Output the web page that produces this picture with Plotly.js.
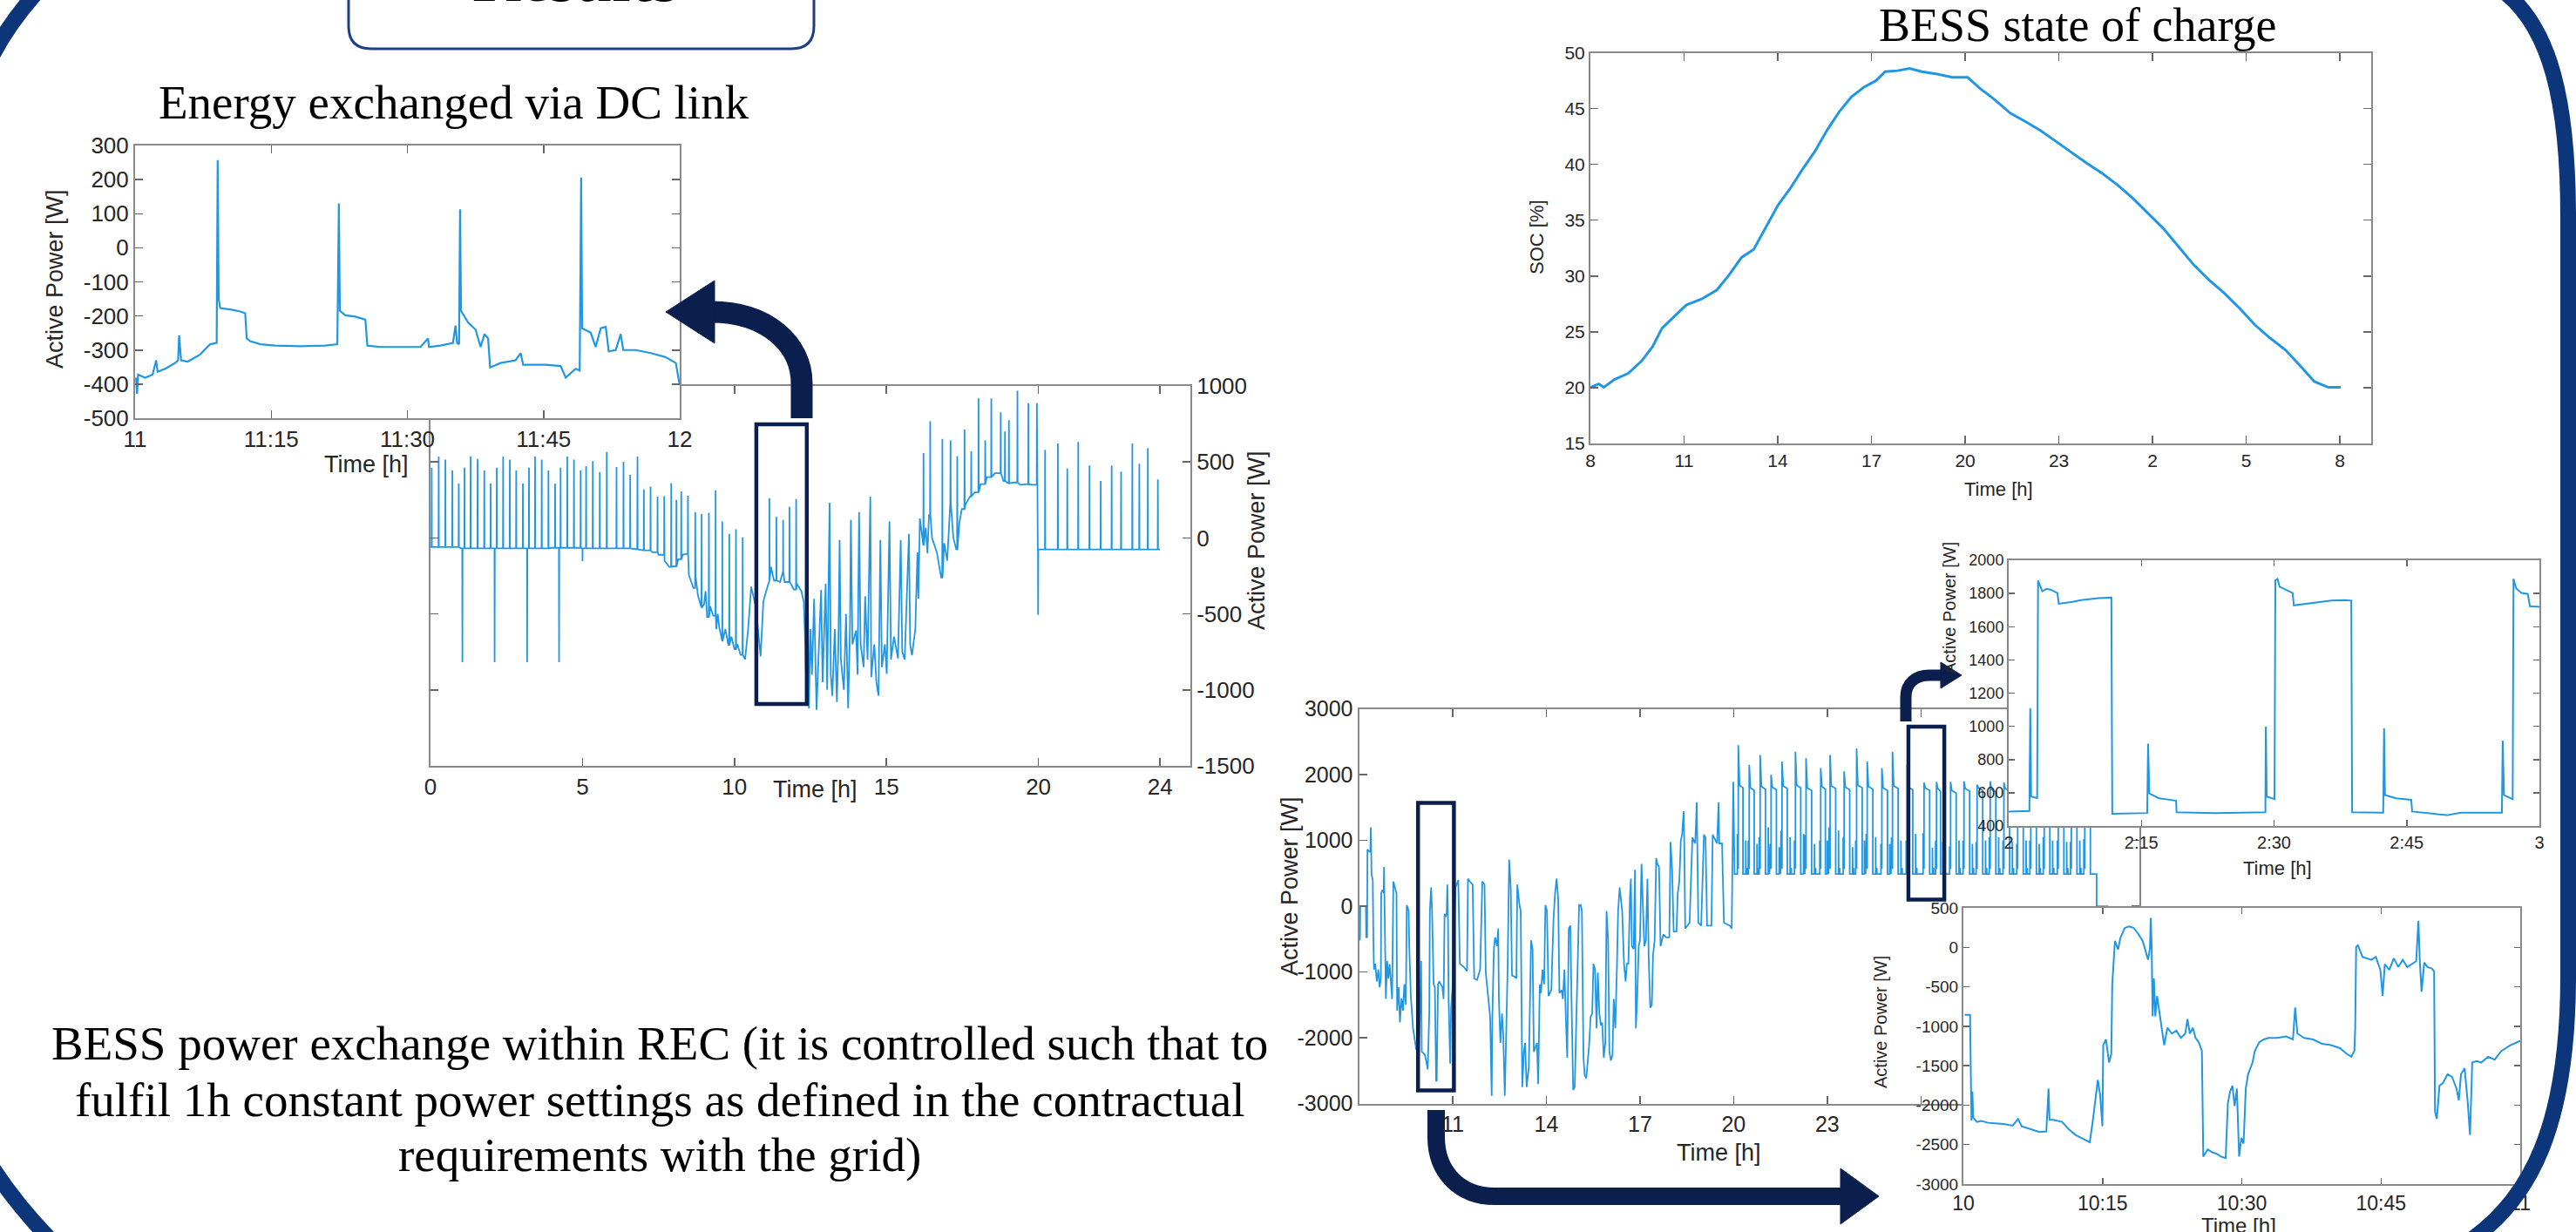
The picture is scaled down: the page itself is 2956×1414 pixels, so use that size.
<!DOCTYPE html>
<html><head><meta charset="utf-8">
<script src="https://cdn.plot.ly/plotly-3.0.1.min.js"></script>
<style>html,body{margin:0;padding:0;background:#fff;overflow:hidden}#chart{width:2956px;height:1414px}</style>
</head><body><div id="chart"></div>
<script>
// ================= DATA =================
// --- A: "Energy exchanged via DC link" zoom, minutes after 11:00 ---
const dcZoomMin = [0.11,0.22,0.33,1.10,1.93,2.32,2.48,3.31,4.41,4.74,4.85,5.07,5.79,7.17,8.27,8.99,9.10,9.21,9.38,10.48,11.58,12.13,12.30,12.69,13.79,15.44,18.20,20.96,22.28,22.45,22.56,23.17,24.27,25.37,25.59,27.03,29.23,31.44,32.27,32.38,33.65,35.02,35.30,35.47,35.69,35.80,35.91,36.68,37.51,38.06,38.50,38.89,39.11,40.26,41.92,42.47,42.75,45.23,46.88,47.44,48.54,48.98,49.14,49.25,50.19,50.74,51.30,51.85,52.18,52.95,53.50,53.78,55.16,56.82,58.47,59.57,59.96];
const dcZoomW = [-381,-428,-372,-381,-372,-330,-364,-355,-338,-330,-257,-330,-334,-313,-283,-279,257,-151,-177,-181,-187,-192,-266,-274,-283,-287,-289,-287,-283,130,-185,-198,-202,-211,-287,-291,-291,-291,-266,-291,-287,-279,-228,-279,-283,113,-185,-219,-240,-291,-253,-266,-351,-338,-330,-309,-343,-343,-347,-381,-355,-360,206,-236,-249,-291,-236,-232,-304,-300,-253,-300,-300,-309,-321,-338,-398];
const dcZoomTickVals = [0,15,30,45,60];
const dcZoomTickText = ['11','11:15','11:30','11:45','12'];
const dcZoomYTicks = [-500,-400,-300,-200,-100,0,100,200,300];

// --- B: DC link active power over the day (hours) ---
const dcBaseT = [0,1.0,2.0,3.0,4.0,5.0,6.0,6.8,7.0,7.3,7.5,7.7,7.85,8.0,8.15,8.3,8.4,8.5,8.6,8.65,8.72,8.8,8.9,9.0,9.05,9.1,9.2,9.3,9.4,9.45,9.5,9.6,9.7,9.8,9.9,10.0,10.1,10.2,10.35,10.45,10.55,10.7,10.86,10.95,11.0,11.15,11.2,11.3,11.5,11.6,11.65,11.85,11.95,12.05,12.2,12.28,12.33,12.37,12.42,12.45,12.5,12.55,12.62,12.7,12.78,12.85,12.9,13.0,13.05,13.13,13.17,13.22,13.3,13.37,13.42,13.46,13.5,13.6,13.67,13.74,13.8,13.83,13.88,14.0,14.05,14.1,14.15,14.25,14.3,14.38,14.47,14.5,14.6,14.67,14.74,14.8,14.85,14.95,15.01,15.1,15.15,15.25,15.38,15.47,15.52,15.6,15.74,15.78,15.84,15.95,16.02,16.05,16.1,16.2,16.29,16.35,16.4,16.5,16.66,16.8,16.9,17.0,17.1,17.2,17.3,17.4,17.48,17.6,17.75,17.9,18.1,18.3,18.57,18.85,19.0,19.2,19.4,19.58,19.8,19.96,19.98,21.0,22.0,23.0,24.0];
const dcBaseW = [-60,-69,-69,-69,-65,-69,-69,-75,-82,-95,-111,-150,-190,-187,-140,-110,-105,-245,-300,-330,-250,-379,-460,-436,-350,-520,-450,-512,-600,-500,-589,-680,-600,-703,-650,-732,-700,-770,-799,-600,-321,-450,-780,-420,-380,-280,-190,-280,-290,-220,-290,-300,-340,-300,-350,-420,-700,-1050,-500,-1121,-600,-900,-400,-1131,-700,-342,-950,-301,-1000,232,-900,-1039,-600,-1080,-700,-14,-800,-1000,-500,-1121,-600,119,-700,-609,-900,170,-700,-850,-383,-800,273,-916,-700,-950,-1039,-14,-850,-700,-895,109,-800,-650,-793,-14,-750,-800,27,-700,-772,-600,-96,-400,129,-50,68,-100,150,0,-96,-260,-35,-150,232,0,-76,100,190,220,273,300,354,400,426,375,360,365,350,354,350,354,-76,-76,-76,-76,-76];
const dcSpikeT = [0.04,0.27,0.49,0.72,0.93,1.12,1.32,1.55,1.77,1.98,2.18,2.39,2.61,2.82,3.04,3.24,3.44,3.66,3.88,4.10,4.28,4.50,4.72,4.94,5.12,5.34,5.57,5.80,6.12,6.35,6.57,6.81,7.02,7.24,7.47,7.69,7.92,8.09,8.25,8.47,8.71,8.92,9.16,9.38,9.60,9.83,10.05,10.27,1.05,2.11,3.18,4.23,5.00,11.15,11.38,11.60,11.81,12.03,16.22,16.44,16.84,17.11,17.33,17.57,17.79,18.03,18.25,18.45,18.76,18.90,19.03,19.31,19.67,19.95,19.99,20.22,20.64,20.95,21.31,21.68,22.05,22.41,22.72,23.09,23.32,23.60,23.93];
const dcSpikeW = [463,535,516,444,358,463,535,520,444,358,463,535,516,444,358,463,535,516,444,358,463,535,516,444,472,505,434,566,467,501,415,535,319,338,272,275,361,250,306,277,170,157,166,314,109,27,57,4,-818,-818,-818,-818,-153,262,138,119,205,256,559,768,651,641,539,713,570,918,641,918,826,700,775,969,887,887,-506,580,621,457,631,477,375,477,436,621,488,590,385];
const dcTickVals = [0,5,10,15,20,24];
const dcYTicks = [-1500,-1000,-500,0,500,1000];

// --- C: BESS state of charge ---
const socH = [8.00,8.27,8.43,8.78,9.21,9.64,9.99,10.29,10.68,11.07,11.56,12.05,12.44,12.84,13.23,13.62,14.01,14.40,14.79,15.18,15.58,15.97,16.36,16.75,17.14,17.44,17.83,18.22,18.61,19.10,19.59,20.08,20.47,20.96,21.45,21.94,22.43,22.92,23.41,23.90,24.39,24.88,25.37,25.85,26.34,26.83,27.32,27.81,28.30,28.79,29.28,29.77,30.26,30.75,31.18,31.63,32.02];
const socPct = [20.03,20.33,20.03,20.75,21.28,22.39,23.67,25.31,26.36,27.40,27.94,28.75,30.09,31.67,32.39,34.42,36.36,37.85,39.55,41.13,43.07,44.72,46.06,46.90,47.49,48.30,48.39,48.60,48.30,48.09,47.79,47.79,46.81,45.76,44.57,43.82,42.99,42.03,41.04,40.09,39.19,38.15,36.96,35.61,34.27,32.63,30.99,29.64,28.45,27.10,25.61,24.42,23.37,21.88,20.54,20.03,20.03];
const dayTickVals = [8,11,14,17,20,23,26,29,32];
const dayTickText = ['8','11','14','17','20','23','2','5','8'];

// --- D: BESS power exchange within REC (hours, continuing past midnight) ---
const dMorningT = [8.00,8.03,8.04,8.22,8.23,8.26,8.27,8.29,8.36,8.38,8.40,8.44,8.46,8.48,8.52,8.57,8.62,8.66,8.70,8.71,8.75,8.79,8.80,8.81,8.83,8.86,8.90,8.94,8.98,9.03,9.06,9.10,9.15,9.20,9.22,9.27,9.31,9.36,9.41,9.45,9.50,9.53,9.57,9.59,9.61,9.66,9.73,9.83,9.92,9.99,10.01,10.11,10.15,10.20,10.25,10.27,10.31,10.34,10.39,10.43,10.47,10.49,10.53,10.57,10.67,10.71,10.74,10.78,10.81,10.83,10.85,10.87,10.92,10.95,11.00,11.04,11.09,11.18,11.23,11.35,11.46,11.49,11.55,11.64,11.69,11.78,11.88,11.95,12.02,12.06,12.11,12.16,12.20,12.25,12.27,12.32,12.36,12.42,12.46,12.48,12.53,12.58,12.62,12.67,12.72,12.76,12.81,12.86,12.90,13.00,13.04,13.07,13.14,13.18,13.23,13.28,13.32,13.37,13.44,13.51,13.56,13.60,13.70,13.74,13.79,13.83,13.88,13.93,13.97,14.02,14.07,14.16,14.23,14.28,14.33,14.38,14.42,14.49,14.53,14.58,14.63,14.67,14.72,14.77,14.81,14.86,14.91,14.95,15.05,15.10,15.14,15.19,15.23,15.28,15.33,15.37,15.42,15.47,15.51,15.56,15.61,15.65,15.70,15.75,15.79,15.84,15.89,15.93,15.98,16.02,16.07,16.12,16.16,16.21,16.26,16.30,16.35,16.40,16.43,16.49,16.54,16.58,16.63,16.68,16.71,16.74,16.80,16.84,16.87,16.91,16.96,17.00,17.05,17.10,17.14,17.19,17.24,17.28,17.33,17.38,17.42,17.47,17.52,17.56,17.61,17.66,17.70,17.75,17.84,17.94,17.98,18.03,18.08,18.17,18.21,18.26,18.31,18.35,18.40,18.42,18.45,18.59,18.68,18.77,18.82,18.84,18.87,18.96,19.05,19.10,19.15,19.29,19.33,19.47,19.52,19.54,19.63,19.69,19.89,19.94,19.98,19.99,20.03];
const dMorningW = [-518,-500,0,0,-470,-470,866,850,821,1200,487,400,-518,-964,-875,-1143,-960,-1232,-1100,196,250,200,598,200,18,-1411,-830,-1100,-880,-1300,-1411,375,300,196,-1589,-1232,-1768,-1400,-1589,-1187,-1500,18,-40,-71,-607,-1366,-1857,-2170,-2259,-830,-2214,-2259,-2348,-2482,-1634,-71,286,-71,-1187,-1232,-2661,-2650,-1187,-1143,-1232,-1411,-116,-161,-100,330,-200,-1411,-2393,-1545,-1200,-400,286,397,-875,-920,-987,420,375,330,-1098,-1121,-964,375,330,-1009,-1232,-1411,-1679,-2884,-1725,-652,-473,-607,-339,-1411,-2080,-1634,-1946,-2884,-1946,-964,710,286,-1054,-1076,-1098,330,18,-71,-2750,-2214,-2080,-2750,-2438,-518,-652,-2214,-2080,-2705,-1187,-1321,-964,-1187,18,-71,-1366,-1276,-205,196,420,107,-1321,-1276,-1411,-964,-1768,-2304,-339,-295,-1500,-2795,-2750,-1857,18,18,-71,-2304,-2571,-2616,-2304,-2125,-1679,-1634,-875,-964,-1857,-1009,-1634,-1813,-1768,-2304,-2080,-71,-518,-2214,-2348,-2259,-1411,-1857,-964,-71,286,107,-71,-875,-1143,-875,-875,152,420,-607,-652,554,-1857,-1411,-607,-518,643,-71,-607,-518,420,-786,-1545,-1500,-741,-518,732,643,598,-607,-518,-429,-473,-473,978,554,-384,-384,196,375,1000,1089,1446,955,-339,-250,1045,955,1580,955,-250,-295,1089,1045,-295,-295,1089,955,1580,955,955,-250,-300,-339,1045,1893,490];
// evening / night: blocks between a low level and a high plateau
const dRiseT = [20.15,20.50,20.85,21.20,21.55,21.98,22.32,22.79,23.09,23.54,23.94,24.28,24.75,25.09,25.56,26.10,26.50,26.95,27.38,27.80,28.22,28.66,29.10,29.52,29.95,30.40,30.82,31.25];
const dFallT = [20.30,20.66,21.02,21.37,21.72,22.15,22.50,22.94,23.27,23.72,24.12,24.46,24.93,25.27,25.74,26.28,26.63,27.13,27.56,27.98,28.40,28.84,29.28,29.70,30.13,30.58,31.00,31.43];
const dOvershootW = [2450,2150,2300,2000,2200,2350,2250,2100,2300,2050,2400,2200,2100,2350,2150,1880,1890,1890,1900,1850,1900,1880,1870,1900,1880,1860,1890,1870];
const dPlateauW = [1800,1760,1780,1770,1790,1800,1760,1780,1790,1770,1800,1780,1760,1790,1770,1760,1750,1720,1750,1760,1740,1750,1760,1740,1750,1760,1740,1750];
const dPreSpikeW = [1100,1000,1050,950,1150,1000,1080,1000,1200,1050,1000,1100,950,1050,1000,1110,1000,910,1000,980,1050,1000,950,1000,1050,1000,980,1020];
const dBlipT = [20.39,20.75,21.11,21.46,21.81,22.24,22.59,23.00,23.36,23.81,24.19,24.55,25.00,25.36,25.83,26.37,26.70,27.22,27.65,28.07,28.49,28.93,29.37,29.79,30.22,30.67,31.09];
const dBlipW = [1000,950,1200,900,1050,1100,950,1000,1150,900,1000,1050,950,1000,1100,890,980,1000,950,1000,1050,980,1000,950,1000,980,1000];
const dLowW = 490;
const dPreW = 580;
const dTailT = [31.63,31.63,32.00];
const dTailW = [490,0,0];
const dLabelText = ['','11','14','17','20','23','','',''];
const dYTicks = [-3000,-2000,-1000,0,1000,2000,3000];

// --- E: zoom 2:00-3:00 (minutes after 2:00) ---
const eMin = [0.00,2.34,2.44,2.54,3.22,3.32,3.80,4.29,4.78,5.51,5.66,6.24,7.22,8.20,9.17,10.15,11.61,11.71,15.66,15.76,15.90,16.98,18.20,18.93,18.98,23.30,29.02,29.07,29.17,30.05,30.15,30.39,30.63,31.37,32.10,32.24,33.07,34.54,36.49,37.95,38.73,38.83,42.34,42.44,42.54,43.80,45.51,45.61,49.56,51.12,55.76,55.85,56.00,56.98,57.07,57.37,57.95,58.68,58.93,60.00];
const eW = [487,490,1110,577,568,1878,1813,1828,1822,1803,1738,1742,1750,1760,1766,1772,1775,474,478,895,596,567,558,552,483,478,483,998,577,562,1878,1888,1841,1822,1803,1728,1734,1742,1757,1760,1757,483,480,989,586,567,558,487,465,480,480,914,586,562,1888,1831,1803,1797,1723,1719];
const eTickText = ['2','2:15','2:30','2:45','3'];

// --- F: zoom 10:00-11:00 (minutes after 10:00) ---
const fMin = [0.14,0.72,0.87,0.97,1.06,1.45,1.93,2.66,3.38,4.35,5.31,5.89,6.28,7.25,8.21,8.94,9.18,9.28,9.66,10.63,11.35,12.08,13.04,13.62,13.91,14.25,14.49,14.73,14.98,15.07,15.36,15.70,15.94,16.04,16.33,16.67,16.91,17.39,17.87,18.36,18.84,19.32,19.57,19.90,20.10,20.19,20.29,20.39,20.53,20.68,20.87,21.26,21.64,21.98,22.46,22.95,23.43,23.91,24.15,24.40,24.73,25.02,25.36,25.70,25.85,26.33,26.81,27.29,27.78,28.26,28.50,28.74,28.99,29.23,29.47,29.71,29.95,30.19,30.43,30.68,30.92,31.16,31.40,31.88,32.37,32.85,33.82,34.78,35.51,35.75,35.99,36.71,37.68,38.65,39.61,40.58,41.30,41.79,42.13,42.22,42.32,42.51,43.00,43.48,43.96,44.44,44.93,45.17,45.41,45.89,46.38,46.86,47.34,47.83,48.31,48.79,49.03,49.18,49.37,49.66,50.00,50.48,50.72,50.82,51.01,51.30,51.69,52.17,52.66,53.14,53.38,53.62,54.01,54.35,54.59,54.83,55.31,55.80,56.52,57.25,57.97,58.94,59.66,60.00];
const fW = [-855,-855,-2194,-1827,-2157,-2212,-2201,-2223,-2230,-2238,-2260,-2175,-2267,-2304,-2340,-2333,-1790,-2186,-2186,-2212,-2304,-2377,-2432,-2469,-2230,-1864,-1680,-1864,-2267,-1240,-1167,-1460,-1350,-470,81,-29,117,246,264,246,172,81,-11,-158,-11,374,-11,-873,-396,-873,-616,-946,-1240,-1020,-1093,-1056,-1148,-1093,-910,-1093,-1020,-1148,-1203,-1313,-2652,-2561,-2597,-2616,-2652,-2671,-1974,-1827,-1753,-2010,-1790,-2652,-2414,-2487,-1790,-1607,-1533,-1460,-1313,-1203,-1167,-1148,-1148,-1130,-1167,-763,-1093,-1148,-1167,-1222,-1240,-1277,-1350,-1387,-1313,-1020,7,26,-121,-139,-158,-121,-286,-616,-213,-286,-139,-249,-158,-249,-213,-176,337,-176,-561,-194,-249,-268,-304,-2084,-2175,-1753,-1717,-1607,-1643,-1790,-1937,-1607,-1533,-1974,-2377,-1460,-1442,-1460,-1387,-1423,-1313,-1240,-1203,-1185];
const fTickText = ['10','10:15','10:30','10:45','11'];
const fYTicks = [-3000,-2500,-2000,-1500,-1000,-500,0,500];

// ================= BUILD =================
const W = 2956, H = 1414;
const xd = (a, b) => [a / W, b / W];
const yd = (top, bottom) => [1 - bottom / H, 1 - top / H];
const LINE = '#2196e3', AXC = '#8a8a8a', TXT = '#262626', NAVY = '#0b1f4f', FRAME = '#0c3679';
const SANS = 'Liberation Sans, Arial, sans-serif';
const SERIF = 'Liberation Serif, Times New Roman, serif';
const hyphenLabels = vals => vals.map(v => String(v));

// spikes are drawn from the base curve value (held from the last base point) up to the read peak
function withSpikes(bt, bw, st, sw) {
  const pts = bt.map((t, i) => [t, bw[i], 0]);
  st.forEach((t, k) => {
    let b = bw[0];
    for (let i = 0; i < bt.length; i++) { if (bt[i] <= t) b = bw[i]; else break; }
    pts.push([t - 0.006, b, 1], [t, sw[k], 2], [t + 0.006, b, 3]);
  });
  pts.sort((p, q) => p[0] - q[0] || p[2] - q[2]);
  return { x: pts.map(p => p[0]), y: pts.map(p => p[1]) };
}
const dc = withSpikes(dcBaseT, dcBaseW, dcSpikeT, dcSpikeW);

const dPts = dMorningT.map((t, i) => [t, dMorningW[i], 0]);
dRiseT.forEach((t, i) => {
  dPts.push([t - 0.03, dLowW, 1], [t - 0.03, dPreSpikeW[i], 2], [t - 0.025, dPreW, 3], [t, dPreW, 4],
            [t, dOvershootW[i], 5], [t + 0.04, dPlateauW[i] + 40, 6], [dFallT[i], dPlateauW[i], 7], [dFallT[i], dLowW, 8]);
});
dBlipT.forEach((t, i) => {
  dPts.push([t, dLowW, 1], [t, dBlipW[i], 2], [t + 0.005, dPreW, 3], [t + 0.04, dPreW - 10, 4], [t + 0.04, dLowW, 5]);
});
dTailT.forEach((t, i) => dPts.push([t, dTailW[i], 10 + i]));
dPts.sort((p, q) => p[0] - q[0] || p[2] - q[2]);

function axis(domain, range, anchor, fontSize, extra) {
  return Object.assign({
    domain, range, anchor, showgrid: false, zeroline: false, showline: true, mirror: 'ticks',
    linecolor: AXC, linewidth: 2, ticks: 'inside', ticklen: 9, tickwidth: 1.5, tickcolor: '#666',
    tickfont: { family: SANS, size: fontSize, color: TXT }, fixedrange: true, automargin: false
  }, extra || {});
}

const traces = [
  { x: dc.x, y: dc.y, xaxis: 'x', yaxis: 'y', type: 'scatter', mode: 'lines', line: { color: LINE, width: 1.8 }, hoverinfo: 'skip' },
  { x: dcZoomMin, y: dcZoomW, xaxis: 'x2', yaxis: 'y2', type: 'scatter', mode: 'lines', line: { color: LINE, width: 2.2 }, hoverinfo: 'skip' },
  { x: socH, y: socPct, xaxis: 'x3', yaxis: 'y3', type: 'scatter', mode: 'lines', line: { color: LINE, width: 3 }, hoverinfo: 'skip' },
  { x: dPts.map(p => p[0]), y: dPts.map(p => p[1]), xaxis: 'x4', yaxis: 'y4', type: 'scatter', mode: 'lines', line: { color: LINE, width: 1.8 }, hoverinfo: 'skip' },
  { x: eMin, y: eW, xaxis: 'x5', yaxis: 'y5', type: 'scatter', mode: 'lines', line: { color: LINE, width: 2 }, hoverinfo: 'skip' },
  { x: fMin, y: fW, xaxis: 'x6', yaxis: 'y6', type: 'scatter', mode: 'lines', line: { color: LINE, width: 2 }, hoverinfo: 'skip' }
];

function toPaper(tokens) {
  const out = []; let isX = true;
  tokens.forEach(t => {
    if (typeof t === 'string') { out.push(t); isX = true; }
    else { out.push(isX ? (t / W).toFixed(5) : (1 - t / H).toFixed(5)); isX = !isX; }
  });
  return out.join(' ');
}
function pshape(tokens, lineColor, lineWidth, fill) {
  return { type: 'path', xref: 'paper', yref: 'paper', path: toPaper(tokens),
           line: { color: lineColor, width: lineWidth }, fillcolor: fill || 'rgba(0,0,0,0)', layer: 'above' };
}

const shapes = [
  // outer frame
  pshape(['M', 2870, -12, 'C', 2928, 30, 2947, 120, 2947, 250, 'L', 2947, 1120, 'C', 2947, 1290, 2905, 1380, 2825, 1430], FRAME, 18),
  pshape(['M', 45, -12, 'C', 25, 10, 5, 35, -12, 70], FRAME, 18),
  pshape(['M', -12, 1335, 'C', 10, 1370, 35, 1400, 65, 1430], FRAME, 18),
  // "Results" tab
  pshape(['M', 400, -10, 'L', 400, 30, 'Q', 400, 56, 426, 56, 'L', 908, 56, 'Q', 934, 56, 934, 30, 'L', 934, -10], '#1c3f8a', 3, '#ffffff'),
  // arrows
  pshape(['M', 920, 480, 'L', 920, 440, 'C', 920, 395, 880, 358, 816, 358], NAVY, 25),
  pshape(['M', 820, 322, 'L', 764, 358, 'L', 820, 394, 'Z'], NAVY, 1, NAVY),
  pshape(['M', 1648, 1274, 'L', 1648, 1305, 'C', 1648, 1345, 1675, 1373, 1715, 1373, 'L', 2115, 1373], NAVY, 20),
  pshape(['M', 2112, 1341, 'L', 2156, 1373, 'L', 2112, 1405, 'Z'], NAVY, 1, NAVY),
  pshape(['M', 2187, 828, 'L', 2187, 800, 'C', 2187, 784, 2198, 775, 2214, 775, 'L', 2229, 775], NAVY, 13),
  pshape(['M', 2227, 760, 'L', 2251, 775, 'L', 2227, 790, 'Z'], NAVY, 1, NAVY),
  // highlight boxes (data coordinates)
  { type: 'rect', xref: 'x', yref: 'y', x0: 10.72, x1: 12.38, y0: -1093, y1: 748, line: { color: NAVY, width: 4.5 } },
  { type: 'rect', xref: 'x4', yref: 'y4', x0: 9.89, x1: 11.04, y0: -2801, y1: 1573, line: { color: NAVY, width: 4.5 } },
  { type: 'rect', xref: 'x4', yref: 'y4', x0: 25.6, x1: 26.75, y0: 100, y1: 2730, line: { color: NAVY, width: 4.5 } }
];

function note(text, x, y, size, opts) {
  return Object.assign({ text, xref: 'paper', yref: 'paper', x: x / W, y: 1 - y / H, showarrow: false,
    xanchor: 'center', yanchor: 'middle', font: { family: SANS, size, color: TXT } }, opts || {});
}
const serif = (size) => ({ family: SERIF, size, color: '#000' });
const annotations = [
  note('<b>Results</b>', 660, 19, 76, { yanchor: 'bottom', font: serif(76) }),
  note('Energy exchanged via DC link', 521, 118, 55, { font: serif(55) }),
  note('BESS state of charge', 2384, 29, 54, { font: serif(54) }),
  note('BESS power exchange within REC (it is controlled such that to', 757, 1197, 55, { font: serif(55) }),
  note('fulfil 1h constant power settings as defined in the contractual', 757, 1262, 55, { font: serif(55) }),
  note('requirements with the grid)', 757, 1325, 55, { font: serif(55) }),
  // axis titles
  note('Active Power [W]', 63, 320, 27, { textangle: -90 }),
  note('Time [h]', 420, 533, 27),
  note('Time [h]', 936, 906, 27),
  note('Active Power [W]', 1442, 620, 27, { textangle: -90 }),
  note('SOC [%]', 1763, 272, 22, { textangle: -90 }),
  note('Time [h]', 2293, 561, 22),
  note('Active Power [W]', 1480, 1017, 27, { textangle: -90 }),
  note('Time [h]', 1972, 1323, 27),
  note('Active Power [W]', 2237, 698, 20, { textangle: -90 }),
  note('Time [h]', 2613, 996, 22),
  note('Active Power [W]', 2158, 1173, 20, { textangle: -90 }),
  note('Time [h]', 2569, 1406, 24)
];

const layout = {
  width: W, height: H, margin: { l: 0, r: 0, t: 0, b: 0, pad: 0 },
  paper_bgcolor: '#ffffff', plot_bgcolor: '#ffffff', showlegend: false,
  font: { family: SANS, color: TXT },
  xaxis: axis(xd(494, 1366), [0, 25], 'y', 26, { tickvals: dcTickVals }),
  yaxis: axis(yd(443, 879), [-1500, 1000], 'x', 26, { side: 'right', tickvals: dcYTicks, ticktext: hyphenLabels(dcYTicks) }),
  xaxis2: axis(xd(155, 780), [0, 60], 'y2', 26, { tickvals: dcZoomTickVals, ticktext: dcZoomTickText }),
  yaxis2: axis(yd(167, 480), [-500, 300], 'x2', 26, { tickvals: dcZoomYTicks, ticktext: hyphenLabels(dcZoomYTicks) }),
  xaxis3: axis(xd(1825, 2721), [8, 33], 'y3', 21, { tickvals: dayTickVals, ticktext: dayTickText }),
  yaxis3: axis(yd(60.5, 509), [15, 50], 'x3', 21, { dtick: 5, tick0: 0 }),
  xaxis4: axis(xd(1559.5, 2455), [8, 33], 'y4', 25, { tickvals: dayTickVals, ticktext: dLabelText }),
  yaxis4: axis(yd(813.7, 1266.5), [-3000, 3000], 'x4', 25, { tickvals: dYTicks, ticktext: hyphenLabels(dYTicks) }),
  xaxis5: axis(xd(2305, 2914), [0, 60], 'y5', 20, { tickvals: dcZoomTickVals, ticktext: eTickText, ticklen: 7 }),
  yaxis5: axis(yd(643, 948), [400, 2000], 'x5', 18, { dtick: 200, tick0: 0, ticklen: 7 }),
  xaxis6: axis(xd(2253, 2892), [0, 60], 'y6', 23, { tickvals: dcZoomTickVals, ticktext: fTickText, ticklen: 7 }),
  yaxis6: axis(yd(1042, 1359), [-3000, 500], 'x6', 19, { tickvals: fYTicks, ticktext: hyphenLabels(fYTicks), ticklen: 7 }),
  shapes, annotations
};

Plotly.newPlot('chart', traces, layout, { staticPlot: true, displayModeBar: false });
</script>
</body></html>
